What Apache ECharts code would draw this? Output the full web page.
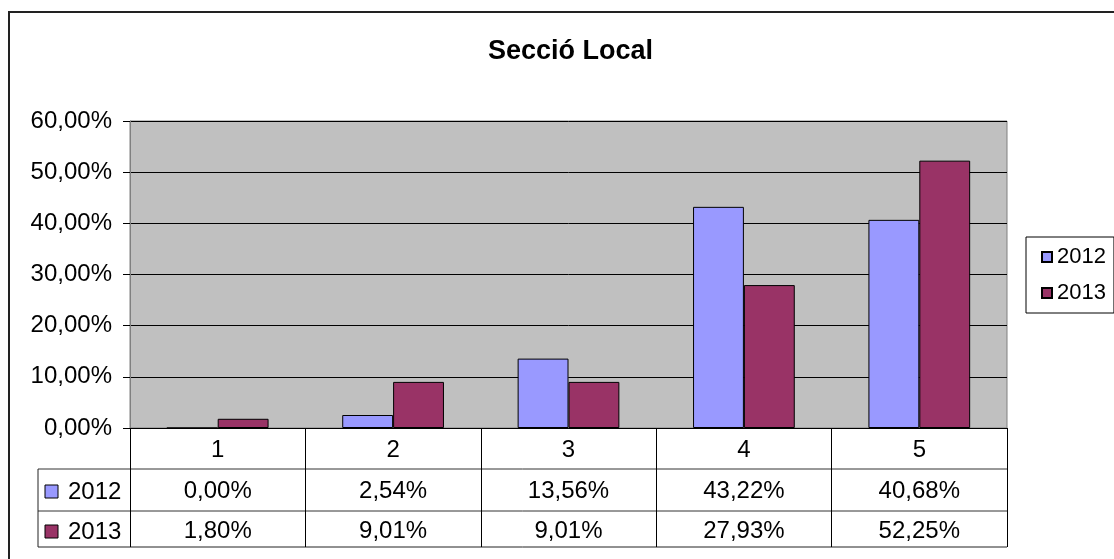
<!DOCTYPE html>
<html>
<head>
<meta charset="utf-8">
<script src="https://cdn.jsdelivr.net/npm/echarts@6/dist/echarts.min.js"></script>
<style>
  html, body { margin: 0; padding: 0; background: #fff; }
  #container { width: 1114px; height: 559px; }
</style>
</head>
<body>
<div id="container"></div>
<script>
// data
var categories = ['1', '2', '3', '4', '5'];
var seriesNames = ['2012', '2013'];
var values2012 = [0.00, 2.54, 13.56, 43.22, 40.68];
var values2013 = [1.80, 9.01, 9.01, 27.93, 52.25];
var colors = ['#9999ff', '#993366'];

function pct(v) {
    return v.toFixed(2).replace('.', ',') + '%';
}

var dom = document.getElementById('container');
var myChart = echarts.init(dom, null, { renderer: 'canvas' });

var FONT = "'Liberation Sans', Arial, sans-serif";
var FS = 24;
// plot area
var gl = 130, gr = 1007, gt = 121, gb = 428;
var tableLeft = 38, row1 = 469, row2 = 511, tableBottom = 547;

var graphics = [
    // outer chart border
    { type: 'rect', shape: { x: 9, y: 12, width: 1200, height: 600 },
      style: { fill: null, stroke: '#222', lineWidth: 2 }, silent: true },
    // table lines
    { type: 'line', shape: { x1: tableLeft, y1: row1, x2: gr, y2: row1 }, style: { stroke: '#333', lineWidth: 1 } },
    { type: 'line', shape: { x1: tableLeft, y1: row2, x2: gr, y2: row2 }, style: { stroke: '#333', lineWidth: 1 } },
    { type: 'line', shape: { x1: tableLeft, y1: tableBottom, x2: gr, y2: tableBottom }, style: { stroke: '#222', lineWidth: 1 } },
    { type: 'line', shape: { x1: tableLeft, y1: row1, x2: tableLeft, y2: tableBottom }, style: { stroke: '#222', lineWidth: 1 } }
];
var rowCenters = [491, 531];
seriesNames.forEach(function (name, i) {
    graphics.push({ type: 'rect', shape: { x: 45, y: rowCenters[i] - 6, width: 13, height: 13 },
        style: { fill: colors[i], stroke: '#000', lineWidth: 1 } });
    graphics.push({ type: 'text', x: 68, y: rowCenters[i] + 1,
        style: { text: name, font: FS + 'px ' + FONT, fill: '#000', verticalAlign: 'middle' } });
});

var option = {
    animation: false,
    textStyle: { fontFamily: FONT },
    title: {
        text: 'Secció Local',
        left: 483,
        top: 33,
        textStyle: { fontSize: 27, fontWeight: 'bold', color: '#000', fontFamily: FONT }
    },
    legend: {
        data: seriesNames,
        orient: 'vertical',
        left: 1026,
        top: 237,
        icon: 'rect',
        itemWidth: 10,
        itemHeight: 10,
        itemGap: 14,
        padding: [9, 8, 9, 15],
        borderColor: '#000',
        borderWidth: 1,
        textStyle: { fontSize: 22, color: '#000', fontFamily: FONT }
    },
    grid: {
        left: gl, right: 1114 - gr, top: gt, bottom: 559 - gb,
        show: true,
        backgroundColor: '#c0c0c0',
        borderColor: '#808080',
        borderWidth: 1
    },
    xAxis: [
        {
            type: 'category',
            data: categories,
            axisLine: { lineStyle: { color: '#000' } },
            axisTick: { show: true, length: tableBottom - gb, lineStyle: { color: '#000' } },
            axisLabel: { fontSize: FS, color: '#000', margin: 10 }
        },
        {
            type: 'category',
            data: values2012.map(pct),
            position: 'bottom',
            offset: row1 - gb,
            axisLine: { show: false },
            axisTick: { show: false },
            axisLabel: { fontSize: FS, color: '#000', margin: 10 }
        },
        {
            type: 'category',
            data: values2013.map(pct),
            position: 'bottom',
            offset: row2 - gb,
            axisLine: { show: false },
            axisTick: { show: false },
            axisLabel: { fontSize: FS, color: '#000', margin: 8 }
        }
    ],
    yAxis: {
        type: 'value',
        min: 0,
        max: 60,
        interval: 10,
        axisLine: { show: true, lineStyle: { color: '#808080' } },
        axisTick: { show: true, length: 7, lineStyle: { color: '#000' } },
        splitLine: { lineStyle: { color: '#000', width: 1 } },
        axisLabel: {
            fontSize: FS, color: '#000', margin: 18,
            formatter: function (v) { return pct(v); }
        }
    },
    series: [
        {
            name: seriesNames[0],
            type: 'bar',
            data: values2012,
            barGap: 0,
            barCategoryGap: '42%',
            itemStyle: { color: colors[0], borderColor: '#000', borderWidth: 1 }
        },
        {
            name: seriesNames[1],
            type: 'bar',
            data: values2013,
            barGap: 0,
            barCategoryGap: '42%',
            itemStyle: { color: colors[1], borderColor: '#000', borderWidth: 1 }
        }
    ],
    graphic: graphics
};

myChart.setOption(option);
window.addEventListener('resize', function () {
    myChart.resize();
});
</script>
</body>
</html>
